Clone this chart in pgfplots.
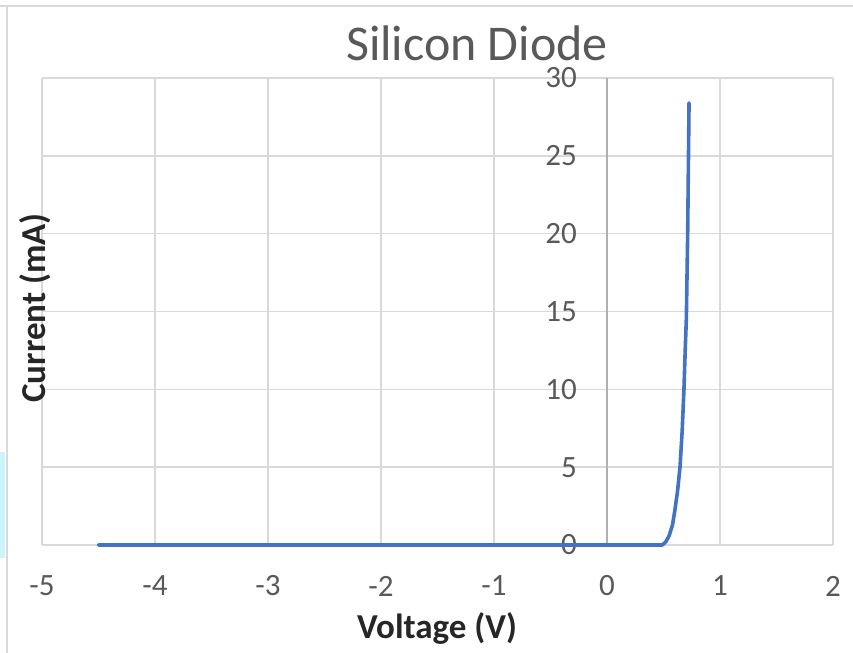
\documentclass[border=0pt]{standalone}
\usepackage{pgfplots}
\pgfplotsset{compat=1.18}
\usepackage{fontspec}
\setmainfont{Carlito}
\definecolor{xlblue}{HTML}{4472C4}
\definecolor{xlgrid}{HTML}{D9D9D9}
\definecolor{xltext}{HTML}{595959}
\definecolor{xlaxis}{HTML}{B0B0B0}
\definecolor{edgeblue}{HTML}{CCF4FB}
\begin{document}
\begin{tikzpicture}
% frame of the chart area, as in the screenshot
\fill[edgeblue] (-42bp,-13bp) rectangle (-37bp,93bp);
\draw[xlgrid, line width=2bp] (-42bp,539bp) -- (811bp,539bp);
\draw[xlgrid, line width=2bp] (-35bp,539bp) -- (-35bp,-108bp);
\begin{axis}[
    name=ax,
    at={(0,0)}, anchor=south west,
    scale only axis,
    width=791bp, height=467bp,
    xmin=-5, xmax=2,
    ymin=0, ymax=30,
    xtick={-5,-4,...,2},
    ytick={0,5,...,30},
    extra x ticks={0},
    extra x tick labels={},
    extra x tick style={grid style={xlaxis, line width=1.6bp}},
    grid=major,
    grid style={xlgrid, line width=1.6bp},
    axis line style={draw=none},
    major tick length=0pt,
    clip=false,
    /pgf/number format/assume math mode=true,
    ticklabel style={font=\fontsize{31bp}{37bp}\selectfont, text=xltext, inner sep=0pt},
    xticklabel style={anchor=center, yshift=-41bp},
    yticklabel style={anchor=east, xshift=535bp},
]
\addplot[xlblue, line width=3.6bp, line join=round, line cap=round] coordinates {
(-4.5,0) (-4,0) (-3.5,0) (-3,0) (-2.5,0) (-2,0) (-1.5,0) (-1,0)
(-0.5,0) (0,0) (0.1,0) (0.2,0) (0.3,0) (0.4,0) (0.49,0)
(0.52,0.2) (0.55,0.6) (0.58,1.3) (0.60,2.2) (0.625,3.5) (0.646,5.0)
(0.665,7.3) (0.681,10.0) (0.692,12.5) (0.702,14.5) (0.714,20.0) (0.726,28.4)
};
\end{axis}
\node[anchor=base, text=xltext, font=\fontsize{50bp}{60bp}\selectfont] at (435bp,484bp) {Silicon Diode};
\node[anchor=base, text=black!85, font=\bfseries\fontsize{35bp}{42bp}\selectfont] at (395bp,-93bp) {Voltage (V)};
\node[anchor=base, rotate=90, text=black!85, font=\bfseries\fontsize{35bp}{42bp}\selectfont] at (3bp,237bp) {Current (mA)};
\pgfresetboundingbox
\path[use as bounding box] (-42bp,-108bp) rectangle (811bp,545bp);
\end{tikzpicture}
\end{document}
